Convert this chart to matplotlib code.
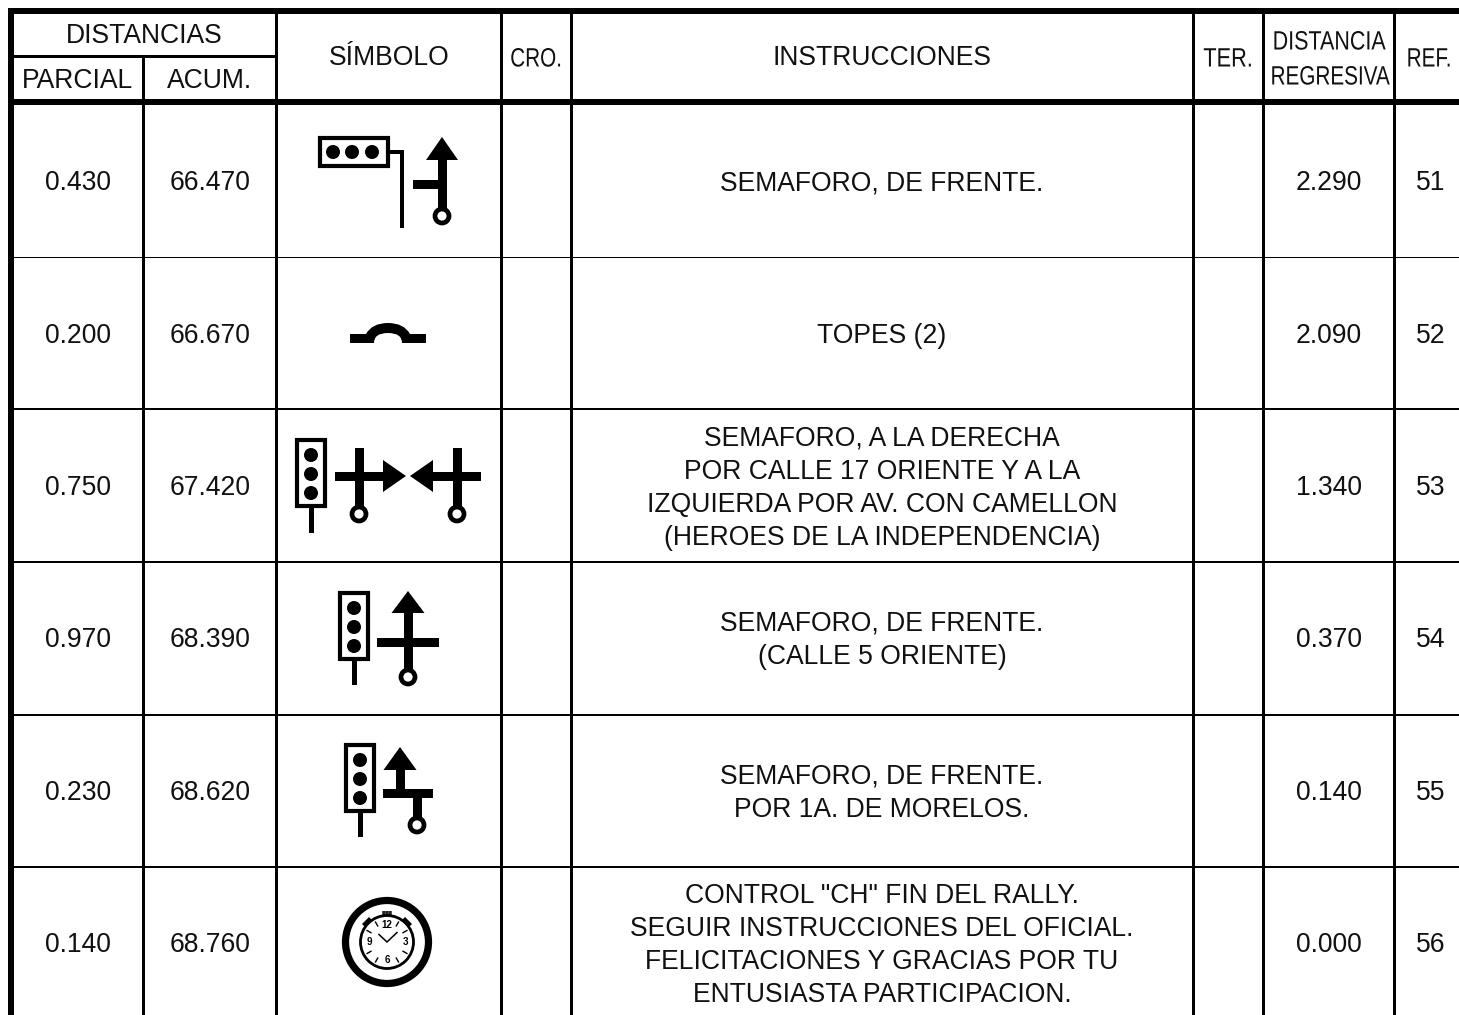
import numpy as np
import matplotlib
matplotlib.use('Agg')
import matplotlib.pyplot as plt
from matplotlib.patches import Circle, Rectangle, Polygon, PathPatch
from matplotlib.path import Path
from matplotlib.patheffects import AbstractPathEffect
from matplotlib.transforms import Affine2D

plt.rcParams['font.family'] = ['Liberation Sans', 'DejaVu Sans']

# tabla
col_lines = [143.5, 276, 501, 571, 1193, 1263, 1394.5]
row_lines = [257.4, 409, 562, 715, 867]
row_y = [181, 334, 486, 638, 791, 943]

parcial = ['0.430', '0.200', '0.750', '0.970', '0.230', '0.140']
acum = ['66.470', '66.670', '67.420', '68.390', '68.620', '68.760']
regresiva = ['2.290', '2.090', '1.340', '0.370', '0.140', '0.000']
ref = ['51', '52', '53', '54', '55', '56']
instrucciones = [
    ['SEMAFORO, DE FRENTE.'],
    ['TOPES (2)'],
    ['SEMAFORO, A LA DERECHA', 'POR CALLE 17 ORIENTE Y A LA',
     'IZQUIERDA POR AV. CON CAMELLON', '(HEROES DE LA INDEPENDENCIA)'],
    ['SEMAFORO, DE FRENTE.', '(CALLE 5 ORIENTE)'],
    ['SEMAFORO, DE FRENTE.', 'POR 1A. DE MORELOS.'],
    ['CONTROL "CH" FIN DEL RALLY.', 'SEGUIR INSTRUCCIONES DEL OFICIAL.',
     'FELICITACIONES Y GRACIAS POR TU', 'ENTUSIASTA PARTICIPACION.'],
]

W, H = 1459, 1015
fig = plt.figure(figsize=(W / 100, H / 100), dpi=100)
ax = fig.add_axes([0, 0, 1, 1])
ax.set_xlim(0, W)
ax.set_ylim(H, 0)
ax.axis('off')

FS = 19.1


class Squeeze(AbstractPathEffect):
    # angosta el texto en x, no hay fuente narrow instalada
    def __init__(self, cx, sx):
        super().__init__()
        self.cx = cx
        self.sx = sx

    def draw_path(self, renderer, gc, tpath, affine, rgbFace=None):
        t = affine + Affine2D().translate(-self.cx, 0).scale(self.sx, 1).translate(self.cx, 0)
        renderer.draw_path(gc, tpath, t, rgbFace)


def txt(x, y, s, fs=FS, sx=None):
    # y es el centro de las mayusculas
    t = ax.text(x, y + fs * 0.5 * 0.716 / 0.72, s, fontsize=fs, ha='center', va='baseline',
                color='#111111')
    if sx:
        t.set_path_effects([Squeeze(ax.transData.transform((x, 0))[0], sx)])


def rect(x0, y0, x1, y1, c='k'):
    ax.add_patch(Rectangle((x0, y0), x1 - x0, y1 - y0, fc=c, ec='none'))


def dot(x, y, r):
    ax.add_patch(Circle((x, y), r, fc='k', ec='none'))


def vlight(x0, y0, pole_end):
    # semaforo vertical, caja 32x70
    ax.add_patch(Rectangle((x0 + 2, y0 + 2), 28, 66, fc='white', ec='k', lw=3))
    for dy in (17, 36, 55):
        dot(x0 + 16, y0 + dy, 7)
    rect(x0 + 13.5, y0 + 70, x0 + 18.5, pole_end)


def ring(x, y):
    ax.add_patch(Circle((x, y), 7, fc='white', ec='k', lw=3.4, zorder=3))


def arrow_up(x, tip, base, hw=16.5):
    ax.add_patch(Polygon([(x, tip), (x - hw, base), (x + hw, base)], fc='k', ec='none'))


def stopwatch(x, y):
    ax.add_patch(Circle((x, y), 41.5, fc='white', ec='k', lw=5.2))
    for s in (-1, 1):
        ax.add_patch(Polygon([(x + s * 18, y - 25), (x + s * 25, y - 18),
                              (x + s * 20, y - 13), (x + s * 13, y - 20)], fc='k', ec='none'))
    rect(x - 5, y - 31, x + 5, y - 27, '#555555')
    for dx in (-3, 0, 3):
        rect(x + dx - 0.6, y - 31, x + dx + 0.6, y - 26, '#222222')
    ax.add_patch(Circle((x, y), 26.5, fc='white', ec='k', lw=2))
    for ang in range(0, 360, 30):
        if ang % 90 == 0:
            continue
        a = np.radians(ang)
        ax.plot([x + 18.5 * np.sin(a), x + 23 * np.sin(a)],
                [y - 18.5 * np.cos(a), y - 23 * np.cos(a)], color='k', lw=1)
    for s, dx, dy in (('12', 0, -17), ('3', 18, 0), ('6', 0, 18), ('9', -18, 0)):
        ax.text(x + dx, y + dy, s, fontsize=7, fontweight='bold', ha='center', va='center')
    ax.plot([x - 8, x, x + 10], [y - 7.5, y, y - 9.5], color='k', lw=1.1)


# lineas de la tabla
for c in col_lines:
    rect(c - 1.5, 56 if c == col_lines[0] else 11, c + 1.5, H)
rect(8, 9, 14, H)
rect(8, 8, W, 13.7)
rect(8, 99, W, 105)
rect(13, 55, 276, 57.5)
for r in row_lines:
    rect(8, r - 0.9, W, r + 0.9)

# encabezado
txt(144, 34, 'DISTANCIAS')
txt(78, 79, 'PARCIAL')
txt(210, 79, 'ACUM.')
txt(389, 56, 'SÍMBOLO')
txt(536, 57, 'CRO.', sx=0.78)
txt(882, 56, 'INSTRUCCIONES')
txt(1228, 57, 'TER.', sx=0.82)
txt(1329, 40, 'DISTANCIA', sx=0.81)
txt(1330, 75, 'REGRESIVA', sx=0.78)
txt(1429, 57, 'REF.', sx=0.78)

# filas
for i, y in enumerate(row_y):
    txt(78, y, parcial[i])
    txt(210, y, acum[i])
    txt(1329, y, regresiva[i])
    txt(1431, y, ref[i])
    lines = instrucciones[i]
    for j, s in enumerate(lines):
        txt(882, y + (j - (len(lines) - 1) / 2) * 33, s)

# simbolo 51
ax.add_patch(Rectangle((320, 138), 68, 28, fc='white', ec='k', lw=3))
for x in (333, 352, 372):
    dot(x, 152, 7)
rect(388, 150, 404, 154.3)
rect(399.5, 150, 404, 228)
arrow_up(442, 137, 160, 16)
rect(437.5, 160, 446.5, 216)
rect(413, 180, 438, 189)
ring(442, 216)

# simbolo 52
bump = Path([(350, 334), (366, 334), (372, 323), (388, 323), (404, 323), (410, 334),
             (426, 334), (426, 343), (402, 343), (402, 333), (388, 333), (374, 333), (374, 343),
             (350, 343), (350, 334)],
            [Path.MOVETO, Path.LINETO, Path.CURVE3, Path.CURVE3, Path.CURVE3, Path.CURVE3,
             Path.LINETO, Path.LINETO, Path.LINETO, Path.CURVE3, Path.CURVE3, Path.CURVE3,
             Path.CURVE3, Path.LINETO, Path.CLOSEPOLY])
ax.add_patch(PathPatch(bump, fc='k', ec='none'))

# simbolo 53
vlight(295, 438, 533)
rect(354.5, 448, 363.5, 514)
ax.add_patch(Polygon([(383, 460), (383, 492), (406, 476)], fc='k', ec='none'))
rect(335, 471.5, 384, 480.5)
ring(359, 514)
rect(452.5, 448, 461.5, 514)
ax.add_patch(Polygon([(433, 460), (433, 492), (410, 476)], fc='k', ec='none'))
rect(432, 471.5, 481, 480.5)
ring(457, 514)

# simbolo 54
vlight(338, 591, 685)
arrow_up(408, 591, 613)
rect(403.5, 613, 412.5, 677)
rect(377, 637.5, 439, 646.5)
ring(408, 677)

# simbolo 55
vlight(344, 743, 837)
arrow_up(400, 747, 770)
rect(395.5, 770, 404.5, 790)
rect(383, 789, 433, 798)
rect(412.5, 798, 421.5, 825)
ring(417, 825)

# simbolo 56
stopwatch(387, 942)

fig.savefig('out.png', dpi=100)
